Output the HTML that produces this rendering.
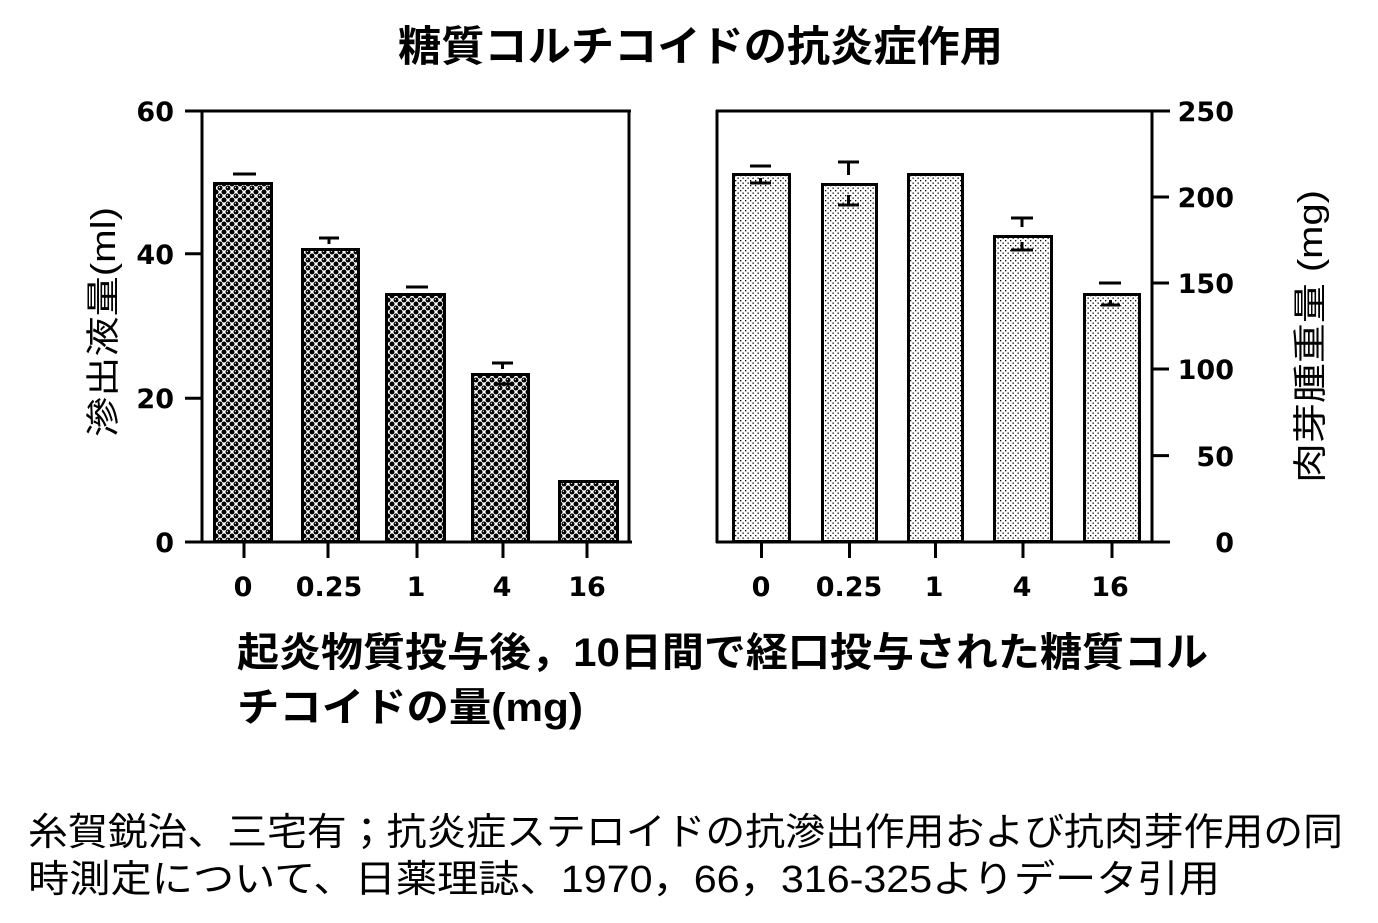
<!DOCTYPE html>
<html><head><meta charset="utf-8"><style>
html,body{margin:0;padding:0;background:#fff;}
svg{display:block;}
.cj{font-family:"Liberation Sans","Noto Sans CJK JP",sans-serif;}
.tk{font-family:"DejaVu Sans",sans-serif;font-weight:bold;font-size:27px;}
</style></head><body>
<svg width="1378" height="923" viewBox="0 0 1378 923" xmlns="http://www.w3.org/2000/svg">
<defs>
<pattern id="p1" patternUnits="userSpaceOnUse" width="8" height="8">
<rect width="8" height="8" fill="#fff"/>
<circle cx="0" cy="0" r="2.5" fill="#000"/><circle cx="8" cy="0" r="2.5" fill="#000"/>
<circle cx="0" cy="8" r="2.5" fill="#000"/><circle cx="8" cy="8" r="2.5" fill="#000"/>
<circle cx="4" cy="4" r="2.5" fill="#000"/>
<circle cx="3.4" cy="3.4" r="0.6" fill="#fff"/>
</pattern>
<pattern id="p2" patternUnits="userSpaceOnUse" width="5" height="5">
<rect width="5" height="5" fill="#fff"/>
<rect x="0" y="0" width="1.3" height="1.3" fill="#000"/>
<rect x="2.5" y="2.5" width="1.3" height="1.3" fill="#000"/>
</pattern>
</defs>

<!-- Title -->
<text class="cj" x="398" y="61" font-size="42" font-weight="bold" textLength="605" lengthAdjust="spacingAndGlyphs">糖質コルチコイドの抗炎症作用</text>

<!-- LEFT PANEL -->
<g fill="url(#p1)" stroke="#000" stroke-width="3">
<rect x="214.5" y="183.5" width="57" height="358"/>
<rect x="302.5" y="249.5" width="56" height="292"/>
<rect x="386.5" y="294.5" width="58" height="247"/>
<rect x="472.5" y="374.5" width="56" height="167"/>
<rect x="559.5" y="481.5" width="58" height="60"/>
</g>
<g stroke="#000" stroke-width="3" fill="none">
<line x1="233" y1="174" x2="256" y2="174"/>
<line x1="319" y1="238" x2="339" y2="238"/><line x1="329" y1="238" x2="329" y2="244"/>
<line x1="406" y1="287" x2="428" y2="287"/>
<line x1="492" y1="363" x2="513" y2="363"/><line x1="502.5" y1="363" x2="502.5" y2="369"/>
<line x1="494" y1="384" x2="511" y2="384"/>
<!-- frame -->
<line x1="185" y1="111" x2="631" y2="111"/>
<line x1="202" y1="110" x2="202" y2="543"/>
<line x1="629" y1="110" x2="629" y2="543"/>
<line x1="185" y1="542" x2="632" y2="542"/>
<line x1="185" y1="253.7" x2="202" y2="253.7"/>
<line x1="185" y1="398.3" x2="202" y2="398.3"/>
<line x1="244" y1="542" x2="244" y2="558"/>
<line x1="328" y1="542" x2="328" y2="558"/>
<line x1="417" y1="542" x2="417" y2="558"/>
<line x1="503" y1="542" x2="503" y2="558"/>
<line x1="587" y1="542" x2="587" y2="558"/>
</g>
<g class="tk" text-anchor="end">
<text x="174" y="121">60</text>
<text x="174" y="264">40</text>
<text x="174" y="408">20</text>
<text x="174" y="552">0</text>
</g>
<g class="tk" text-anchor="middle">
<text x="243" y="596">0</text>
<text x="329" y="596">0.25</text>
<text x="416" y="596">1</text>
<text x="502" y="596">4</text>
<text x="587" y="596">16</text>
</g>
<text class="cj" transform="translate(115,437) rotate(-90)" x="0" y="0" font-size="34" textLength="230" lengthAdjust="spacingAndGlyphs">滲出液量(ml)</text>

<!-- RIGHT PANEL -->
<g fill="url(#p2)" stroke="#000" stroke-width="3">
<rect x="733.5" y="174.5" width="56" height="367"/>
<rect x="822.5" y="184.5" width="54" height="357"/>
<rect x="908.5" y="174.5" width="54" height="367"/>
<rect x="994.5" y="236.5" width="57" height="305"/>
<rect x="1084.5" y="294.5" width="55" height="247"/>
</g>
<g stroke="#000" stroke-width="3" fill="none">
<line x1="750" y1="166" x2="771" y2="166"/>
<line x1="750" y1="183" x2="771" y2="183"/><line x1="760.5" y1="178" x2="760.5" y2="183"/>
<line x1="838" y1="162" x2="859" y2="162"/><line x1="848.5" y1="162" x2="848.5" y2="175"/>
<line x1="838" y1="205" x2="859" y2="205"/><line x1="848.5" y1="195" x2="848.5" y2="205"/>
<line x1="1011" y1="218" x2="1033" y2="218"/><line x1="1022" y1="218" x2="1022" y2="227"/>
<line x1="1011" y1="250" x2="1033" y2="250"/><line x1="1022" y1="242" x2="1022" y2="250"/>
<line x1="1099" y1="283" x2="1121" y2="283"/>
<line x1="1101" y1="305" x2="1120" y2="305"/><line x1="1110.5" y1="300" x2="1110.5" y2="305"/>
<!-- frame -->
<line x1="716" y1="111" x2="1170" y2="111"/>
<line x1="717" y1="110" x2="717" y2="543"/>
<line x1="1152" y1="110" x2="1152" y2="543"/>
<line x1="716" y1="542" x2="1170" y2="542"/>
<line x1="1152" y1="197" x2="1169" y2="197"/>
<line x1="1152" y1="283" x2="1169" y2="283"/>
<line x1="1152" y1="369" x2="1169" y2="369"/>
<line x1="1152" y1="455.6" x2="1169" y2="455.6"/>
<line x1="761.5" y1="542" x2="761.5" y2="558"/>
<line x1="849.5" y1="542" x2="849.5" y2="558"/>
<line x1="935.5" y1="542" x2="935.5" y2="558"/>
<line x1="1023" y1="542" x2="1023" y2="558"/>
<line x1="1112" y1="542" x2="1112" y2="558"/>
</g>
<g class="tk" text-anchor="end">
<text x="1234" y="121">250</text>
<text x="1234" y="207">200</text>
<text x="1234" y="293">150</text>
<text x="1234" y="379">100</text>
<text x="1234" y="466">50</text>
<text x="1234" y="552">0</text>
</g>
<g class="tk" text-anchor="middle">
<text x="761" y="596">0</text>
<text x="849" y="596">0.25</text>
<text x="934" y="596">1</text>
<text x="1022" y="596">4</text>
<text x="1110" y="596">16</text>
</g>
<text class="cj" transform="translate(1322,483) rotate(-90)" x="0" y="0" font-size="34" textLength="293" lengthAdjust="spacingAndGlyphs">肉芽腫重量 (mg)</text>

<!-- X axis label -->
<text class="cj" x="237" y="666" font-size="40" font-weight="bold" textLength="971" lengthAdjust="spacingAndGlyphs">起炎物質投与後，10日間で経口投与された糖質コル</text>
<text class="cj" x="237" y="721" font-size="40" font-weight="bold" textLength="346" lengthAdjust="spacingAndGlyphs">チコイドの量(mg)</text>

<!-- Citation -->
<text class="cj" x="28" y="845" font-size="38" textLength="1315" lengthAdjust="spacingAndGlyphs">糸賀鋭治、三宅有；抗炎症ステロイドの抗滲出作用および抗肉芽作用の同</text>
<text class="cj" x="28" y="892" font-size="38" textLength="1192" lengthAdjust="spacingAndGlyphs">時測定について、日薬理誌、1970，66，316-325よりデータ引用</text>
</svg>
</body></html>
